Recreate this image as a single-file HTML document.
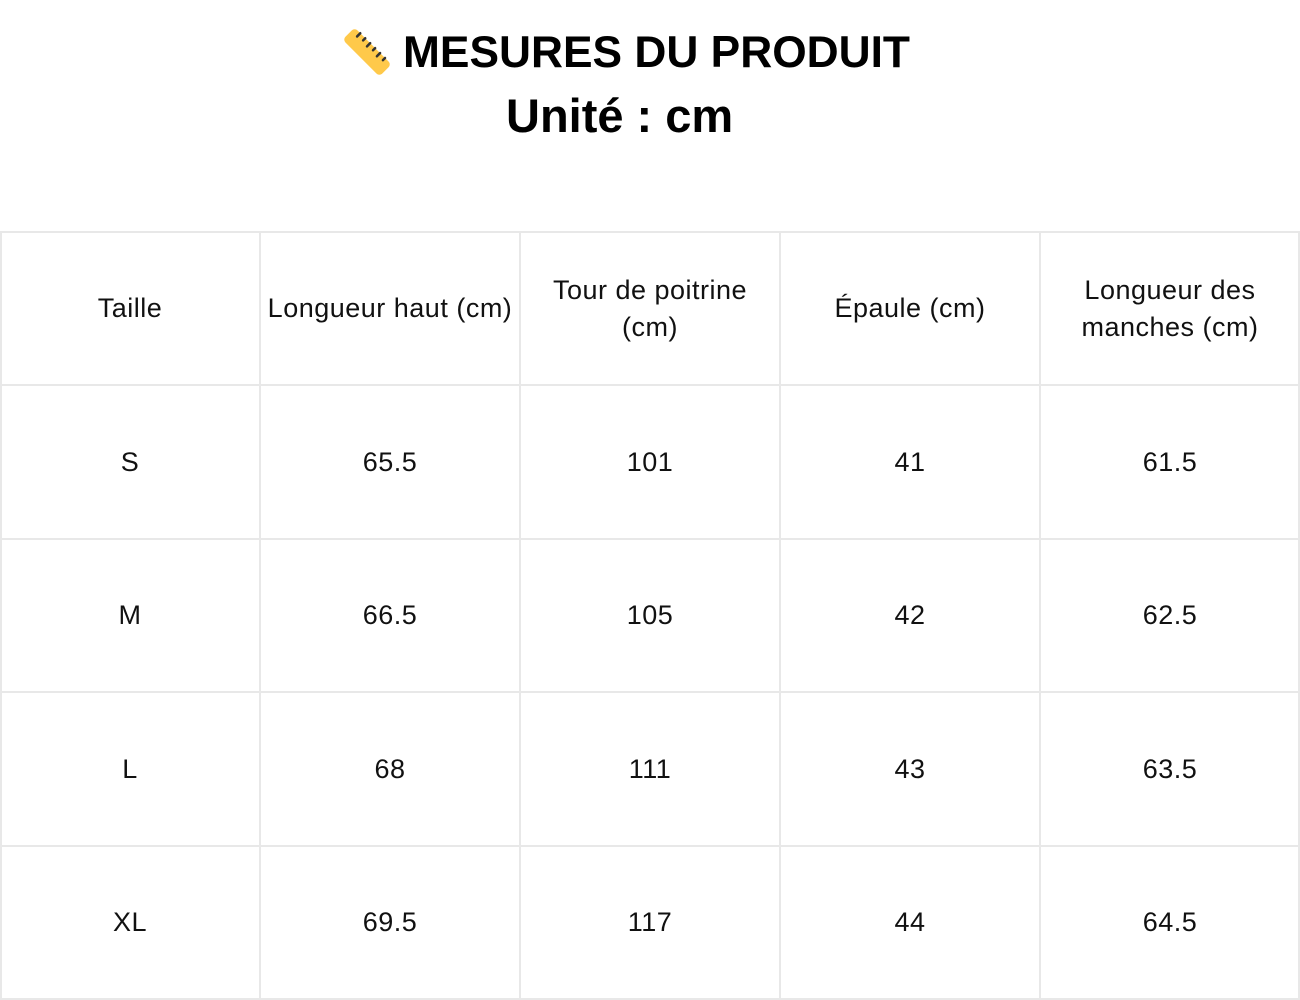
<!DOCTYPE html>
<html>
<head>
<meta charset="utf-8">
<style>
  html, body { margin:0; padding:0; background:#fff; }
  body { width:1300px; height:1000px; position:relative; overflow:hidden;
         font-family:"Liberation Sans", sans-serif; color:#111; }
  .title { position:absolute; left:0; top:0; width:1300px; font-weight:bold; font-size:44.3px; color:#000; }
  .t1 { position:absolute; left:403px; top:27px; white-space:nowrap; line-height:52px; }
  .t2 { position:absolute; left:506px; top:90px; white-space:nowrap; line-height:52px; font-size:47px; }
  .hl { position:absolute; left:0; width:1300px; height:2px; background:#e8e8e8; }
  .vl { position:absolute; top:231px; height:769px; width:2px; background:#e8e8e8; }
  .cell { position:absolute; width:260px; display:flex; align-items:center; justify-content:center;
          text-align:center; font-size:27px; line-height:37px; color:#111; letter-spacing:0.5px; }
</style>
</head>
<body>
  <svg style="position:absolute;left:335px;top:25px" width="65" height="60" viewBox="0 0 65 60">
    <g transform="translate(32,27) rotate(45)">
      <rect x="-26" y="-8.5" width="52" height="17" rx="4" ry="4" fill="#FFC94A"/>
      <g stroke="#333" stroke-width="2.5" stroke-linecap="round">
        <line x1="-18" y1="-8.5" x2="-18" y2="-4"/>
        <line x1="-11" y1="-8.5" x2="-11" y2="-5.5"/>
        <line x1="-4" y1="-8.5" x2="-4" y2="-4"/>
        <line x1="3" y1="-8.5" x2="3" y2="-5.5"/>
        <line x1="10" y1="-8.5" x2="10" y2="-4"/>
        <line x1="17" y1="-8.5" x2="17" y2="-5.5"/>
      </g>
    </g>
  </svg>
  <div class="title">
    <div class="t1">MESURES DU PRODUIT</div>
    <div class="t2">Unité : cm</div>
  </div>

  <div class="hl" style="top:231px"></div>
  <div class="hl" style="top:384px"></div>
  <div class="hl" style="top:538px"></div>
  <div class="hl" style="top:691px"></div>
  <div class="hl" style="top:845px"></div>
  <div class="hl" style="top:998px"></div>
  <div class="vl" style="left:0px"></div>
  <div class="vl" style="left:259px"></div>
  <div class="vl" style="left:519px"></div>
  <div class="vl" style="left:779px"></div>
  <div class="vl" style="left:1039px"></div>
  <div class="vl" style="left:1298px"></div>

  <!-- header -->
  <div class="cell" style="left:0;top:233px;height:151px">Taille</div>
  <div class="cell" style="left:260px;top:233px;height:151px">Longueur haut (cm)</div>
  <div class="cell" style="left:520px;top:233px;height:151px">Tour de poitrine<br>(cm)</div>
  <div class="cell" style="left:780px;top:233px;height:151px">Épaule (cm)</div>
  <div class="cell" style="left:1040px;top:233px;height:151px">Longueur des<br>manches (cm)</div>

  <!-- S -->
  <div class="cell" style="left:0;top:386px;height:152px">S</div>
  <div class="cell" style="left:260px;top:386px;height:152px">65.5</div>
  <div class="cell" style="left:520px;top:386px;height:152px">101</div>
  <div class="cell" style="left:780px;top:386px;height:152px">41</div>
  <div class="cell" style="left:1040px;top:386px;height:152px">61.5</div>

  <!-- M -->
  <div class="cell" style="left:0;top:540px;height:151px">M</div>
  <div class="cell" style="left:260px;top:540px;height:151px">66.5</div>
  <div class="cell" style="left:520px;top:540px;height:151px">105</div>
  <div class="cell" style="left:780px;top:540px;height:151px">42</div>
  <div class="cell" style="left:1040px;top:540px;height:151px">62.5</div>

  <!-- L -->
  <div class="cell" style="left:0;top:693px;height:152px">L</div>
  <div class="cell" style="left:260px;top:693px;height:152px">68</div>
  <div class="cell" style="left:520px;top:693px;height:152px">111</div>
  <div class="cell" style="left:780px;top:693px;height:152px">43</div>
  <div class="cell" style="left:1040px;top:693px;height:152px">63.5</div>

  <!-- XL -->
  <div class="cell" style="left:0;top:847px;height:151px">XL</div>
  <div class="cell" style="left:260px;top:847px;height:151px">69.5</div>
  <div class="cell" style="left:520px;top:847px;height:151px">117</div>
  <div class="cell" style="left:780px;top:847px;height:151px">44</div>
  <div class="cell" style="left:1040px;top:847px;height:151px">64.5</div>
</body>
</html>
